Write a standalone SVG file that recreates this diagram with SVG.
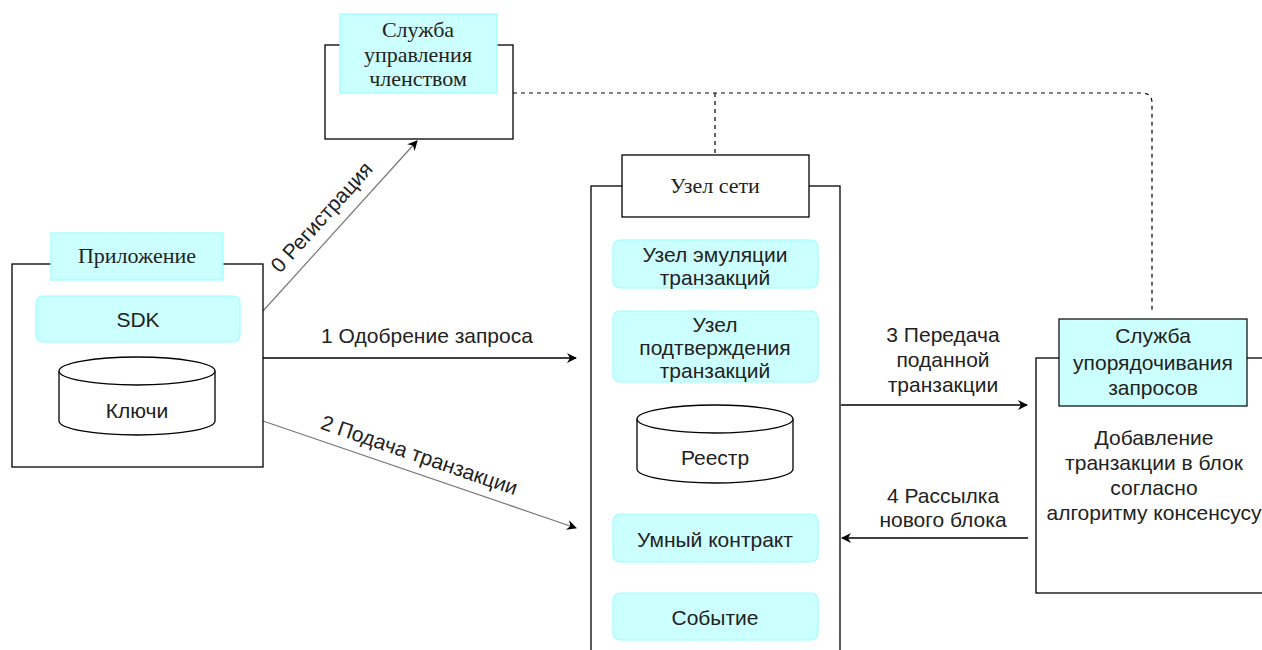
<svg xmlns="http://www.w3.org/2000/svg" width="1262" height="650" viewBox="0 0 1262 650">
<style>
.frame{fill:#fff;stroke:#000;stroke-width:1.3}
.cy{fill:#ccffff;stroke:#99ffff;stroke-width:1.2}
.cyd{fill:#ccffff;stroke:#000;stroke-width:1.2}
.serif{font-family:"Liberation Serif",serif;font-size:22px;fill:#222;text-anchor:middle}
.sans{font-family:"Liberation Sans",Arial,sans-serif;font-size:21px;fill:#222;text-anchor:middle}
.lbl{font-family:"Liberation Sans",Arial,sans-serif;font-size:21px;fill:#222;text-anchor:middle}
.edge{fill:none;stroke:#000;stroke-width:1.3}
.gedge{fill:none;stroke:#777;stroke-width:1.2}
.dash{fill:none;stroke:#000;stroke-width:1.2;stroke-dasharray:4 4}
</style>
<defs>
<marker id="arr" viewBox="0 0 10 10" refX="9" refY="5" markerWidth="10" markerHeight="10" markerUnits="userSpaceOnUse" orient="auto">
<path d="M0,0 L10,5 L0,10 L3,5 Z" fill="#000"/>
</marker>
</defs>
<rect width="1262" height="650" fill="#fff"/>

<g id="connectors">
<path class="dash" d="M513,93 H1142 Q1152,93 1152,103 V310"/>
<path class="dash" d="M715,93 V155"/>
<line class="gedge" x1="263" y1="311" x2="417" y2="141" marker-end="url(#arr)"/>
<text class="lbl" transform="translate(327,222) rotate(-48)">0 Регистрация</text>
<line class="edge" x1="263" y1="358" x2="576" y2="358" marker-end="url(#arr)"/>
<text class="lbl" x="427" y="343">1 Одобрение запроса</text>
<line class="gedge" x1="263" y1="421" x2="576" y2="528" marker-end="url(#arr)"/>
<text class="lbl" transform="translate(417,462) rotate(18.9)">2 Подача транзакции</text>
<line class="edge" x1="841" y1="405" x2="1027" y2="405" marker-end="url(#arr)"/>
<text class="lbl" x="943" y="342">3 Передача</text>
<text class="lbl" x="943" y="367">поданной</text>
<text class="lbl" x="943" y="392">транзакции</text>
<line class="edge" x1="1028" y1="538" x2="842" y2="538" marker-end="url(#arr)"/>
<text class="lbl" x="943" y="503">4 Рассылка</text>
<text class="lbl" x="943" y="527">нового блока</text>
</g>

<g id="membership">
<rect class="frame" x="325" y="45" width="188" height="94"/>
<rect class="cy" x="340" y="14" width="157" height="79"/>
<text class="serif" x="418" y="37">Служба</text>
<text class="serif" x="418" y="62">управления</text>
<text class="serif" x="418" y="86">членством</text>
</g>

<g id="application">
<rect class="frame" x="12" y="264" width="251" height="203"/>
<rect class="cy" x="51" y="233" width="172" height="47"/>
<text class="serif" x="137" y="263">Приложение</text>
<rect class="cy" x="36" y="296" width="204" height="46" rx="7"/>
<text class="sans" x="138" y="327">SDK</text>
<g id="keys">
<path class="frame" d="M59,371 V421 A78,14 0 0 0 215,421 V371"/>
<ellipse class="frame" cx="137" cy="371" rx="78" ry="14"/>
<text class="sans" x="137" y="418">Ключи</text>
</g>
</g>

<g id="node">
<rect class="frame" x="591" y="186" width="249" height="480"/>
<rect class="frame" x="622" y="155" width="187" height="62"/>
<text class="serif" x="715" y="193">Узел сети</text>
<rect class="cy" x="613" y="240" width="205" height="48" rx="7"/>
<text class="sans" x="715" y="262">Узел эмуляции</text>
<text class="sans" x="715" y="285">транзакций</text>
<rect class="cy" x="613" y="311" width="205" height="71" rx="7"/>
<text class="sans" x="715" y="332">Узел</text>
<text class="sans" x="715" y="355">подтверждения</text>
<text class="sans" x="715" y="378">транзакций</text>
<g id="ledger">
<path class="frame" d="M637,419 V469 A78,14 0 0 0 793,469 V419"/>
<ellipse class="frame" cx="715" cy="419" rx="78" ry="14"/>
<text class="sans" x="715" y="465">Реестр</text>
</g>
<rect class="cy" x="613" y="514" width="205" height="48" rx="7"/>
<text class="sans" x="715" y="547">Умный контракт</text>
<rect class="cy" x="613" y="593" width="205" height="47" rx="7"/>
<text class="sans" x="715" y="625">Событие</text>
</g>

<g id="ordering">
<rect class="frame" x="1036" y="358" width="240" height="235"/>
<rect class="cyd" x="1059" y="319" width="188" height="87"/>
<text class="sans" x="1153" y="343">Служба</text>
<text class="sans" x="1153" y="370">упорядочивания</text>
<text class="sans" x="1153" y="395">запросов</text>
<text class="sans" x="1154" y="445">Добавление</text>
<text class="sans" x="1154" y="470">транзакции в блок</text>
<text class="sans" x="1154" y="495">согласно</text>
<text class="sans" x="1154" y="520">алгоритму консенсусу</text>
</g>
</svg>
